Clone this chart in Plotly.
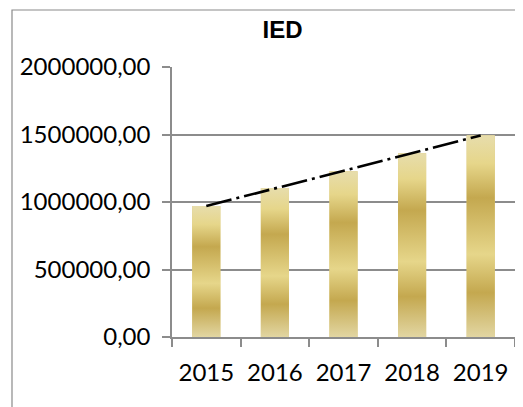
import numpy as np
import plotly.graph_objects as go

# ---- data ----
years = [2015, 2016, 2017, 2018, 2019]
ied_values = [970000, 1103000, 1228000, 1361000, 1494000]
y_ticks = [0, 500000, 1000000, 1500000, 2000000]
title_text = "IED"

# ---- style ----
FONT = "Lato"
GRID = "#8c8c8c"
gold_scale = [
    [0.00, "#e2d6a2"],
    [0.22, "#c4a84f"],
    [0.41, "#e6d68a"],
    [0.69, "#c4a84f"],
    [0.86, "#e6d68a"],
    [1.00, "#e7ddac"],
]
bar_w = 0.41

fig = go.Figure()

# real bars carrying the data
fig.add_trace(go.Bar(x=years, y=ied_values, width=bar_w,
                     marker=dict(color="#d8c475", line=dict(width=0)),
                     name="IED", showlegend=False))

# gradient overlay for each bar (built from the same data)
for yr, v in zip(years, ied_values):
    xs = [yr - bar_w / 2, yr + bar_w / 2, yr + bar_w / 2, yr - bar_w / 2, yr - bar_w / 2]
    ys = [0, 0, v, v, 0]
    fig.add_trace(go.Scatter(
        x=xs, y=ys, mode="lines", fill="toself", line=dict(width=0),
        fillgradient=dict(type="vertical", colorscale=gold_scale, start=0, stop=v),
        hoverinfo="skip", showlegend=False))

# linear trendline
idx = np.arange(len(years))
slope, intercept = np.polyfit(idx, ied_values, 1)
trend = slope * idx + intercept
fig.add_trace(go.Scatter(x=[years[0], years[-1]], y=[trend[0], trend[-1]], mode="lines",
                         line=dict(color="black", width=2.6, dash="26px,5px,3px,5px"),
                         hoverinfo="skip", showlegend=False))

# page body adds an 8px offset, so the figure is 8px smaller and shifted
OFF = 8
W, H = 523 - OFF, 407 - OFF
ml, mt = 172 - OFF, 67 - OFF
pw, ph = 343, 270
mr, mb = W - ml - pw, H - mt - ph

fig.update_layout(
    width=W, height=H,
    margin=dict(l=ml, r=mr, t=mt, b=mb, autoexpand=False),
    paper_bgcolor="white", plot_bgcolor="white",
    separators=", ",
    font=dict(family=FONT, size=24, color="black"),
    title=dict(text="<b>" + title_text + "</b>", x=(282.5 - OFF) / W, xanchor="center",
               y=1 - (29.7 - OFF) / H, yanchor="middle",
               font=dict(family="Liberation Sans", size=24, color="black")),
    showlegend=False,
    bargap=0.59,
)

fig.update_xaxes(
    range=[2014.5, 2019.5], tickmode="array", tickvals=years, ticktext=[str(y) for y in years],
    showgrid=False, zeroline=False, automargin=False,
    showline=True, linecolor=GRID, linewidth=1.5,
    ticks="outside", ticklen=8, tickcolor="rgba(0,0,0,0)",
    ticklabelstandoff=5,
    minor=dict(tickmode="linear", tick0=2014.5, dtick=1, ticks="outside", ticklen=8,
               tickcolor=GRID, tickwidth=1.5, showgrid=False),
    tickfont=dict(family=FONT, size=24, color="black"),
)

fig.update_yaxes(
    range=[0, 2000000], tickmode="array", tickvals=y_ticks, tickformat=".2f",
    showgrid=True, gridcolor=GRID, gridwidth=1.5, zeroline=False, automargin=False,
    showline=True, linecolor=GRID, linewidth=1.5,
    ticks="outside", ticklen=8, tickcolor=GRID, tickwidth=1.5,
    ticklabelstandoff=7,
    tickfont=dict(family=FONT, size=24, color="black"),
)

# outer chart frame (partially cropped on right/bottom)
fig.add_shape(type="rect", xref="paper", yref="paper",
              x0=(12 - OFF - ml) / pw, x1=(W + 20 - ml) / pw,
              y0=-(H + 20 - mt - ph) / ph, y1=1 + (mt - (10 - OFF)) / ph,
              line=dict(color="#8a8a8a", width=1.2), fillcolor="rgba(0,0,0,0)", layer="below")

fig.write_html("out.html")
